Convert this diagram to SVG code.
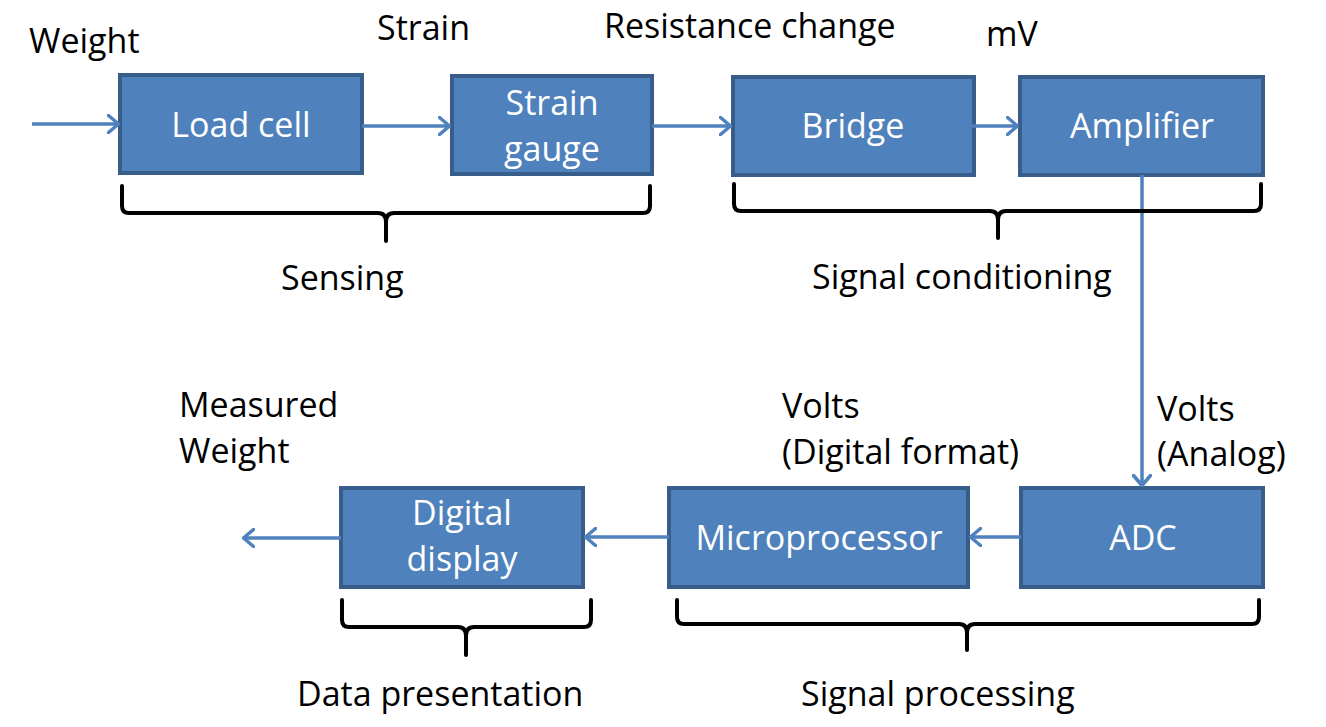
<svg xmlns="http://www.w3.org/2000/svg" width="1326" height="727" viewBox="0 0 1326 727">
<style>
.box{fill:#4f81bd;stroke:#385d8a;stroke-width:4}
.bl{font-family:"Open Sans","Liberation Sans",sans-serif;font-size:34px;fill:#ffffff;text-anchor:middle}
.lb{font-family:"Open Sans","Liberation Sans",sans-serif;font-size:34px;fill:#000000}
.conn{stroke:#4f81bd;stroke-width:3.5;fill:none}
.brace{stroke:#000;stroke-width:4;fill:none;stroke-linecap:round;stroke-linejoin:round}
</style>
<defs>
<marker id="ah" viewBox="0 0 13 20" refX="12" refY="10" markerWidth="13" markerHeight="20" markerUnits="userSpaceOnUse" orient="auto">
<path d="M1.5,1.5 L11.5,10 L1.5,18.5" fill="none" stroke="#4f81bd" stroke-width="3.5" stroke-linecap="round" stroke-linejoin="round"/>
</marker>
</defs>
<rect width="1326" height="727" fill="#ffffff"/>
<g id="n-loadcell"><rect class="box" x="120" y="75" width="242" height="98"/><text class="bl" x="241" y="137">Load cell</text></g>
<g id="n-straingauge"><rect class="box" x="452" y="76" width="200" height="98"/><text class="bl" x="552" y="115">Strain</text><text class="bl" x="552" y="161">gauge</text></g>
<g id="n-bridge"><rect class="box" x="733" y="77" width="241" height="98"/><text class="bl" x="853" y="138">Bridge</text></g>
<g id="n-amplifier"><rect class="box" x="1020" y="77" width="243" height="98"/><text class="bl" x="1142" y="138">Amplifier</text></g>
<g id="n-display"><rect class="box" x="341" y="488" width="242" height="99"/><text class="bl" x="462" y="525">Digital</text><text class="bl" x="462" y="571">display</text></g>
<g id="n-micro"><rect class="box" x="669" y="488" width="299" height="99"/><text class="bl" x="819" y="550">Microprocessor</text></g>
<g id="n-adc"><rect class="box" x="1021" y="488" width="242" height="99"/><text class="bl" x="1143" y="550">ADC</text></g>
<g id="connectors">
<line class="conn" x1="32" y1="124" x2="119" y2="124" marker-end="url(#ah)"/>
<line class="conn" x1="362" y1="126" x2="450" y2="126" marker-end="url(#ah)"/>
<line class="conn" x1="652" y1="126" x2="731" y2="126" marker-end="url(#ah)"/>
<line class="conn" x1="942" y1="126" x2="1018" y2="126" marker-end="url(#ah)"/>
<line class="conn" x1="1142" y1="175" x2="1142" y2="486" marker-end="url(#ah)"/>
<line class="conn" x1="1021" y1="537" x2="970" y2="537" marker-end="url(#ah)"/>
<line class="conn" x1="669" y1="537" x2="585" y2="537" marker-end="url(#ah)"/>
<line class="conn" x1="341" y1="538" x2="243" y2="538" marker-end="url(#ah)"/>
</g>
<g id="braces">
<path class="brace" d="M122,186 L122,206 Q122,213 129,213 L378,213 Q386,213 386,222 L386,241 M386,222 Q386,213 394,213 L643,213 Q650,213 650,206 L650,186"/>
<path class="brace" d="M734,184 L734,204 Q734,211 741,211 L990,211 Q998,211 998,220 L998,238 M998,220 Q998,211 1006,211 L1254,211 Q1261,211 1261,204 L1261,184"/>
<path class="brace" d="M342,600 L342,620 Q342,627 349,627 L458,627 Q466,627 466,636 L466,655 M466,636 Q466,627 474,627 L584,627 Q591,627 591,620 L591,600"/>
<path class="brace" d="M677,600 L677,617 Q677,624 684,624 L959,624 Q967,624 967,633 L967,650 M967,633 Q967,624 975,624 L1252,624 Q1259,624 1259,617 L1259,600"/>
</g>
<g id="labels">
<text class="lb" x="29" y="53">Weight</text>
<text class="lb" x="377" y="40">Strain</text>
<text class="lb" x="604" y="38">Resistance change</text>
<text class="lb" x="986" y="46">mV</text>
<text class="lb" x="281" y="290">Sensing</text>
<text class="lb" x="812" y="289">Signal conditioning</text>
<text class="lb" x="179" y="417">Measured</text>
<text class="lb" x="179" y="463">Weight</text>
<text class="lb" x="782" y="418">Volts</text>
<text class="lb" x="782" y="464">(Digital format)</text>
<text class="lb" x="1157" y="421">Volts</text>
<text class="lb" x="1157" y="466">(Analog)</text>
<text class="lb" x="297" y="706">Data presentation</text>
<text class="lb" x="801" y="706">Signal processing</text>
</g>
</svg>
